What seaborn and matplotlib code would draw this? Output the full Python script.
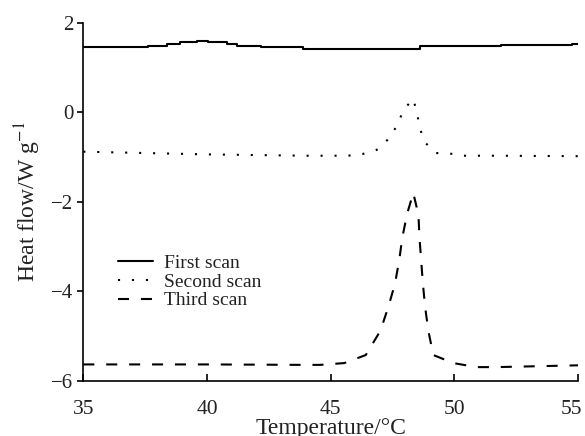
import numpy as np
import pandas as pd
import matplotlib
matplotlib.use('Agg')
import matplotlib.pyplot as plt
from matplotlib.transforms import ScaledTranslation
import seaborn as sns

# ---------------------------------------------------------
# data
# ---------------------------------------------------------
first_x = [35, 37.6, 38.4, 38.9, 39.6, 40.05, 40.8, 41.2, 42.2, 43.9, 48.6, 51.9, 54.75, 55]
first_y = [1.46, 1.49, 1.53, 1.57, 1.60, 1.57, 1.53, 1.49, 1.46, 1.42, 1.47, 1.50, 1.53, 1.53]

second_x = [35, 40, 44.0, 45.1, 45.7, 46.3, 46.86, 47.37, 47.71, 47.94, 48.34,
            48.5, 48.6, 48.79, 49.25, 49.8, 50.37, 51.5, 55]
second_y = [-0.88, -0.94, -0.97, -0.97, -0.97, -0.93, -0.84, -0.58, -0.27, 0.05, 0.30,
            -0.04, -0.34, -0.66, -0.91, -0.92, -0.97, -0.97, -0.98]

third_x = [35, 40, 43.9, 44.57, 45.55, 46.42, 47.01, 47.33, 47.6, 47.77, 47.9, 48.09, 48.34,
           48.55, 48.59, 48.66, 48.73, 48.82, 48.95, 49.15, 49.96, 50.9, 51.7, 55]
third_y = [-5.63, -5.63, -5.64, -5.64, -5.60, -5.42, -4.88, -4.35, -3.83, -3.31, -2.79, -2.27, -1.80,
           -2.29, -2.79, -3.31, -3.83, -4.35, -4.88, -5.42, -5.60, -5.69, -5.69, -5.65]

scan_labels = ['First scan', 'Second scan', 'Third scan']
x_ticks = [35, 40, 45, 50, 55]
y_ticks = [-6, -4, -2, 0, 2]

# ---------------------------------------------------------
# style
# ---------------------------------------------------------
sns.set_theme(style='ticks')
plt.rcParams['font.family'] = ['Liberation Serif', 'DejaVu Serif']
plt.rcParams['mathtext.fontset'] = 'stix'
plt.rcParams['axes.unicode_minus'] = True

fig = plt.figure(figsize=(5.85, 4.36), dpi=100)
ax = fig.add_axes([83.3 / 585, 1 - 381 / 436, (578 - 83.3) / 585, (381 - 22.7) / 436])

lw = 1.5
sns.lineplot(x=first_x, y=first_y, ax=ax, color='black', lw=lw,
             drawstyle='steps-post', label=scan_labels[0], sort=False)
sns.lineplot(x=second_x, y=second_y, ax=ax, color='black', lw=lw,
             linestyle=(0, (1, 5.7)), label=scan_labels[1], sort=False)
sns.lineplot(x=third_x, y=third_y, ax=ax, color='black', lw=lw,
             linestyle=(0, (5.3, 5.7)), label=scan_labels[2], sort=False)

ax.set_xlim(35, 55)
ax.set_ylim(-6, 2)
ax.set_xticks(x_ticks)
ax.set_yticks(y_ticks)
ax.set_yticklabels([str(t).replace('-', '\u2212') for t in y_ticks])

sns.despine(ax=ax)
for s in ['left', 'bottom']:
    ax.spines[s].set_linewidth(1.2)
    ax.spines[s].set_color('black')

ax.tick_params(axis='x', direction='in', length=5, width=1.2, pad=14,
               labelsize=15.5, colors='black')
ax.tick_params(axis='y', direction='out', length=4, width=1.2, pad=3,
               labelsize=15, colors='black')
for t in ax.get_xticklabels() + ax.get_yticklabels():
    t.set_color('#222222')

# last x label pulled left so it stays inside the figure
last = ax.get_xticklabels()[-1]
last.set_transform(last.get_transform() + ScaledTranslation(-7 / 100, 0, fig.dpi_scale_trans))

ax.set_xlabel('Temperature/\u00b0C', fontsize=17, labelpad=-1, color='#222222')
ax.set_ylabel('Heat flow/W g$^{-1}$', fontsize=17, labelpad=6, color='#222222')

leg = ax.legend(loc='center left', bbox_to_anchor=(118 / 585, 1 - 282 / 436),
                bbox_transform=fig.transFigure, frameon=False, fontsize=14,
                borderpad=0, borderaxespad=0, handlelength=1.8,
                handletextpad=0.55, labelspacing=0.05)
for t in leg.get_texts():
    t.set_color('#222222')

fig.savefig('out.png', dpi=100)
